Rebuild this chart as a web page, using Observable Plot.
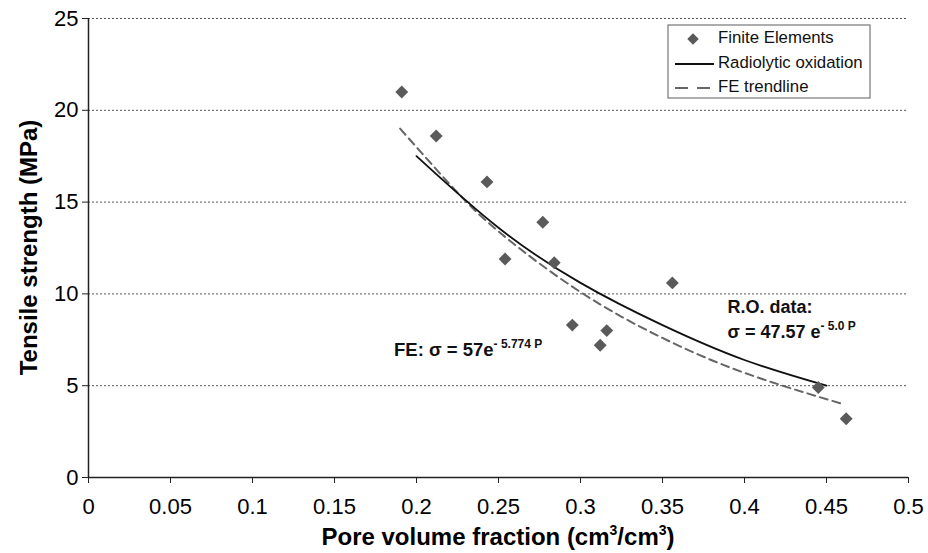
<!DOCTYPE html>
<html><head><meta charset="utf-8">
<script src="https://cdn.jsdelivr.net/npm/d3@7"></script>
<script src="https://cdn.jsdelivr.net/npm/@observablehq/plot@0.6"></script>
<style>
body{margin:0;background:#fff;}
#chart svg{display:block;font-family:"Liberation Sans",Arial,sans-serif;}
</style>
</head><body><div id="chart"></div>
<script>
// Finite element points
const feX = [0.191, 0.212, 0.243, 0.254, 0.277, 0.284, 0.295, 0.312, 0.316, 0.356, 0.445, 0.462];
const feY = [21.0, 18.6, 16.1, 11.9, 13.9, 11.7, 8.3, 7.2, 8.0, 10.6, 4.9, 3.2];
// Radiolytic oxidation curve
const roX = [0.20, 0.25, 0.30, 0.35, 0.40, 0.45];
const roY = [17.5, 13.6, 10.6, 8.3, 6.4, 5.0];
// FE trendline
const ftX = [0.19, 0.22, 0.25, 0.30, 0.35, 0.40, 0.46];
const ftY = [19.0, 16.0, 13.4, 10.1, 7.6, 5.7, 4.0];
// ticks
const xTicks = [0, 0.05, 0.1, 0.15, 0.2, 0.25, 0.3, 0.35, 0.4, 0.45, 0.5];
const yTicks = [0, 5, 10, 15, 20, 25];
const gridTicks = [5, 10, 15, 20, 25];
const seriesNames = ["Finite Elements", "Radiolytic oxidation", "FE trendline"];
// annotation anchors (data units)
const annFE = {x: 0.1866, y: 6.6};
const annRO = {x: 0.390, y1: 8.93, y2: 7.57};

const fe = feX.map((x, i) => ({x, y: feY[i]}));
const ro = roX.map((x, i) => ({x, y: roY[i]}));
const ft = ftX.map((x, i) => ({x, y: ftY[i]}));

const plot = Plot.plot({
  width: 928, height: 553,
  marginLeft: 88, marginRight: 20, marginTop: 18, marginBottom: 76,
  style: {fontFamily: '"Liberation Sans", Arial, sans-serif', fontSize: "21px", color: "#000", background: "#fff"},
  x: {domain: [0, 0.5]},
  y: {domain: [0, 25]},
  marks: [
    Plot.gridY(gridTicks, {stroke: "#555", strokeOpacity: 1, strokeDasharray: "2,2", strokeWidth: 1}),
    Plot.axisX({ticks: xTicks, tickFormat: d => String(+d.toFixed(2)), tickSize: 6, tickPadding: 15, fontSize: 21, label: null, stroke: "#222"}),
    Plot.axisY({ticks: yTicks, tickSize: 6, tickPadding: 4, fontSize: 21, label: null, stroke: "#222"}),
    Plot.ruleX([0], {stroke: "#222", strokeWidth: 1.5}),
    Plot.ruleY([0], {stroke: "#222", strokeWidth: 1.5}),
    Plot.line(ft, {x: "x", y: "y", curve: "natural", stroke: "#666", strokeWidth: 2, strokeDasharray: "8,5"}),
    Plot.line(ro, {x: "x", y: "y", curve: "natural", stroke: "#111", strokeWidth: 1.8}),
    Plot.dot(fe, {x: "x", y: "y", symbol: "diamond2", r: 5.8, fill: "#5a5a5a", stroke: "none"})
  ]
});
document.getElementById("chart").appendChild(plot);

const svg = d3.select(plot);
// enforce tick label size
svg.selectAll('g[aria-label="x-axis tick label"], g[aria-label="y-axis tick label"]')
  .style("font-size", "22px")
  .selectAll("text").style("font-size", "22px");

const sx = plot.scale("x"), sy = plot.scale("y");
const W = 928, H = 553, mL = 88, mR = 20, mT = 18, mB = 76;

// Axis titles
svg.append("text")
  .attr("transform", `translate(31,${(mT + H - mB) / 2}) rotate(-90)`)
  .attr("text-anchor", "middle").attr("dominant-baseline", "middle")
  .attr("font-size", 24).attr("font-weight", "bold").attr("fill", "#000")
  .text("Tensile strength (MPa)");

const xt = svg.append("text")
  .attr("x", (mL + W - mR) / 2).attr("y", 545)
  .attr("text-anchor", "middle")
  .attr("font-size", 24).attr("font-weight", "bold").attr("fill", "#000");
xt.append("tspan").text("Pore volume fraction (cm");
xt.append("tspan").attr("font-size", 14).attr("dy", -10).text("3");
xt.append("tspan").attr("dy", 10).text("/cm");
xt.append("tspan").attr("font-size", 14).attr("dy", -10).text("3");
xt.append("tspan").attr("dy", 10).text(")");

// Annotations
const a1 = svg.append("text")
  .attr("x", sx.apply(annFE.x)).attr("y", sy.apply(annFE.y))
  .attr("text-anchor", "start")
  .attr("font-size", 18.5).attr("font-weight", "bold").attr("fill", "#111");
a1.append("tspan").text("FE: σ = 57e");
a1.append("tspan").attr("font-size", 12).attr("dy", -8).text("- 5.774 P");

svg.append("text")
  .attr("x", sx.apply(annRO.x)).attr("y", sy.apply(annRO.y1))
  .attr("text-anchor", "start")
  .attr("font-size", 18).attr("font-weight", "bold").attr("fill", "#111")
  .text("R.O. data:");
const a3 = svg.append("text")
  .attr("x", sx.apply(annRO.x)).attr("y", sy.apply(annRO.y2))
  .attr("text-anchor", "start")
  .attr("font-size", 18).attr("font-weight", "bold").attr("fill", "#111");
a3.append("tspan").text("σ = 47.57 e");
a3.append("tspan").attr("font-size", 12).attr("dy", -8).text("- 5.0 P");

// Legend
const lg = svg.append("g").attr("transform", "translate(668,25)");
lg.append("rect").attr("width", 202).attr("height", 73).attr("fill", "#fff").attr("stroke", "#777").attr("stroke-width", 1.2);
const rows = [14, 39, 63];
lg.append("path").attr("d", d3.symbol(d3.symbolDiamond2, Math.PI * 5.2 * 5.2)()).attr("transform", `translate(25,${rows[0]})`).attr("fill", "#5a5a5a");
lg.append("line").attr("x1", 7).attr("x2", 46).attr("y1", rows[1]).attr("y2", rows[1]).attr("stroke", "#111").attr("stroke-width", 1.8);
lg.append("line").attr("x1", 7).attr("x2", 46).attr("y1", rows[2]).attr("y2", rows[2]).attr("stroke", "#666").attr("stroke-width", 2).attr("stroke-dasharray", "13,9");
seriesNames.forEach((n, i) => {
  lg.append("text").attr("x", 50).attr("y", rows[i]).attr("dominant-baseline", "middle")
    .attr("text-anchor", "start")
    .attr("font-size", 16.8).attr("fill", "#111").text(n);
});
</script>
</body></html>
